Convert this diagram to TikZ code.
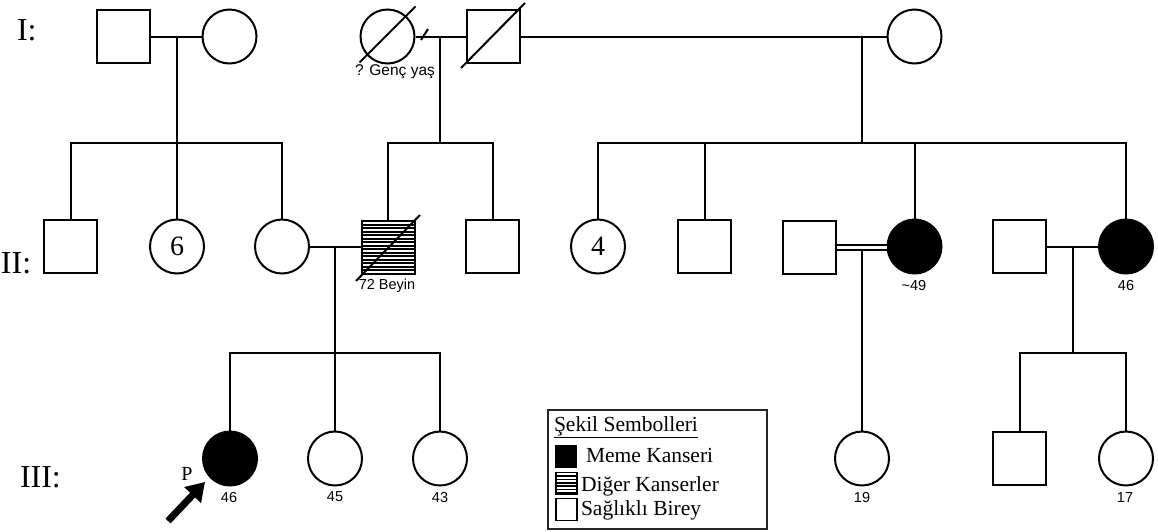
\documentclass[tikz,border=0pt]{standalone}
\usepackage{fontspec}
\setmainfont{Liberation Serif}
\newfontfamily\arialf{Liberation Sans}
\usetikzlibrary{arrows.meta,calc}
\begin{document}
\begin{tikzpicture}[x=1pt,y=-1pt,line width=2pt,
  male/.style={draw,rectangle,minimum size=53pt,inner sep=0pt,fill=white},
  female/.style={draw,circle,minimum size=54pt,inner sep=0pt,fill=white},
  aff/.style={fill=black},
  hatch/.style={path picture={
    \foreach \k in {1,...,15}
      \draw[line width=2pt] ($(path picture bounding box.north west)+(-2,\k*3.5)$) -- ++(62,0);}},
  lhatch/.style={path picture={
    \foreach \k in {1,...,6}
      \draw[line width=1.6pt] ($(path picture bounding box.north west)+(-2,\k*3.4)$) -- ++(30,0);}},
  gen/.style={anchor=base west,inner sep=0pt,font=\fontsize{32}{38}\selectfont},
  num/.style={inner sep=0pt,font=\fontsize{28}{33}\selectfont},
  lab/.style={inner sep=0pt,font=\arialf\fontsize{14.5}{17}\selectfont},
  leg/.style={anchor=base west,inner sep=0pt,font=\fontsize{21.5}{25}\selectfont},
  legbox/.style={draw,line width=1.6pt,rectangle,inner sep=0pt,minimum width=21pt,minimum height=22pt}
]
\useasboundingbox (0,0) rectangle (1158,531);

% generation labels
\node[gen] (gI) at (16,40) {I:};
\node[gen] (gII) at (0,273) {II:};
\node[gen] (gIII) at (19,487) {III:};

% generation I
\node[male] (I1) at (123.5,36.5) {};
\node[female] (I2) at (229.5,36.5) {};
\node[female] (I3) at (387.5,36.5) {};
\node[male] (I4) at (493,36.5) {};
\node[female] (I5) at (914.5,36.5) {};
\draw ($(I3.center)+(-28,26)$) -- ($(I3.center)+(28,-30)$);
\draw ($(I4.center)+(-32,31.5)$) -- ($(I4.center)+(32,-33.5)$);
\node[lab,font=\arialf\fontsize{15.5}{18}\selectfont] (t1) at (395,72) {? Genç yaş};

\coordinate (m1) at (177,36.5);
\coordinate (j1) at (177,143);
\coordinate (m2) at (440,36.5);
\coordinate (j2) at (440,143);
\coordinate (m3) at (862,36.5);
\coordinate (j3) at (862,143);
\draw (I1.east) -- (I2.west);
\draw (I3.east) -- (I4.west);
\draw (I4.east) -- (I5.west);
\coordinate (dv1) at (421,40);
\coordinate (dv2) at (428,29);
\draw (dv1) -- (dv2);
\draw (m1) -- (j1);
\draw (m2) -- (j2);
\draw (m3) -- (j3);

% generation II
\node[male] (II1) at (70.5,246.5) {};
\node[female] (II2) at (177,246.5) {};
\node[num] at (II2.center) {6};
\node[female] (II3) at (282,246.5) {};
\node[male,hatch] (II4) at (388,247.5) {};
\draw ($(II4.center)+(-32,33.5)$) -- ($(II4.center)+(32,-32.5)$);
\node[lab] (t2) at (387,286) {72 Beyin};
\node[male] (II5) at (492.5,246.5) {};
\node[female] (II6) at (598,246.5) {};
\node[num] at (II6.center) {4};
\node[male] (II7) at (704.5,246.5) {};
\node[male] (II8) at (809.5,247.5) {};
\node[female,aff] (II9) at (914.5,246.5) {};
\node[lab] (t3) at (914,285) {\textasciitilde 49};
\node[male] (II10) at (1019.5,246.5) {};
\node[female,aff] (II11) at (1126,246.5) {};
\node[lab] (t4) at (1126,285) {46};

\draw (II1.north) |- (j1) -| (II3.north);
\draw (j1) -- (II2.north);
\draw (II4.north) |- (j2) -| (II5.north);
\draw (II6.north) |- (j3) -| (II11.north);
\draw (II7.north) -- (II7.north |- j3);
\draw (II9.north) -- (II9.north |- j3);

% marriages gen II
\draw (II3.east) -- (II4.west |- II3.east);
\coordinate (m4) at (335,246.5);
\coordinate (j4) at (335,352.5);
\draw (m4) -- (j4);
\draw[line width=1.9pt,double,double distance=2.4pt] (II8.east |- 0,247.5) -- (II9.west |- 0,247.5);
\coordinate (m5) at (862,249.5);
\draw (II10.east) -- (II11.west);
\coordinate (m6) at (1072.5,246.5);
\coordinate (j6) at (1072.5,352.5);
\draw (m6) -- (j6);

% generation III
\node[female,aff] (III1) at (230,458.5) {};
\node[female] (III2) at (335,458.5) {};
\node[female] (III3) at (440,458.5) {};
\node[female] (III4) at (862,458.5) {};
\node[male] (III5) at (1019.5,458.5) {};
\node[female] (III6) at (1126,458.5) {};
\node[lab] (a1) at (229,497) {46};
\node[lab] (a2) at (335,497) {45};
\node[lab] (a3) at (440,497) {43};
\node[lab] (a4) at (862,497) {19};
\node[lab] (a6) at (1125,497) {17};

\draw (III1.north) |- (j4) -| (III3.north);
\draw (j4) -- (III2.north);
\draw (m5) -- (III4.north);
\draw (III5.north) |- (j6) -| (III6.north);

% proband
\node[inner sep=0pt,font=\fontsize{20}{24}\selectfont] (P) at (187,474) {P};
\coordinate (pa) at (168,521);
\coordinate (pb) at (205,482);
\draw[line width=7pt,-{Triangle[length=18pt,width=22pt]}] (pa) -- (pb);

% legend
\draw[line width=1.2pt,draw=black!85] (548,410) rectangle (767,529);
\node[leg] (lt) at (553,431) {\underline{Şekil Sembolleri}};
\node[legbox,fill=black] (l1) at (566,456.5) {};
\node[leg] (lt1) at (585,462) {Meme Kanseri};
\node[legbox,lhatch] (l2) at (566.5,483.5) {};
\node[leg] (lt2) at (580,491) {Diğer Kanserler};
\node[legbox] (l3) at (566.5,509.5) {};
\node[leg] (lt3) at (580,515) {Sağlıklı Birey};
\end{tikzpicture}
\end{document}
